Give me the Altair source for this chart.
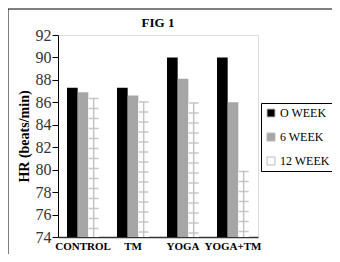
import altair as alt
import pandas as pd

groups = ["CONTROL", "TM", "YOGA", "YOGA+TM"]
weeks = ["O WEEK", "6 WEEK", "12 WEEK"]
week0 = [87.3, 87.3, 90.0, 90.0]
week6 = [86.9, 86.6, 88.1, 86.0]
week12 = [86.4, 86.1, 86.0, 79.9]
y_ticks = [74, 76, 78, 80, 82, 84, 86, 88, 90, 92]
title_text = "FIG 1"

rows = []
for i, g in enumerate(groups):
    for w, vals in zip(weeks, [week0, week6, week12]):
        rows.append({"group": g, "week": w, "value": vals[i]})
df = pd.DataFrame(rows)

SERIF = "Liberation Serif"

x_enc = alt.X("group:N", sort=groups,
              scale=alt.Scale(paddingInner=0.36, paddingOuter=0.18),
              axis=alt.Axis(title=None, labelAngle=0, labelFont=SERIF, labelFontSize=11,
                            labelFontWeight="bold", labelColor="#000", ticks=False,
                            domainColor="#333", domainWidth=1.5, labelPadding=3))
xo_enc = alt.XOffset("week:N", sort=weeks, scale=alt.Scale(domain=weeks))
y_enc = alt.Y("value:Q",
              scale=alt.Scale(domain=[74, 92], nice=False, zero=False),
              axis=alt.Axis(values=y_ticks, title="HR (beats/min)", titleFont=SERIF,
                            titleFontSize=14, titleFontWeight="bold", titleColor="#000",
                            titlePadding=4, labelFont=SERIF, labelFontSize=16,
                            labelColor="#333", tickColor="#000", tickSize=6,
                            domainColor="#000", grid=False, labelPadding=1))

base = alt.Chart(df)

bars = base.mark_bar(clip=True).encode(
    x=x_enc,
    xOffset=xo_enc,
    y=y_enc,
    y2=alt.datum(74),
    color=alt.Color("week:N", sort=weeks,
                    scale=alt.Scale(domain=weeks, range=["#000000", "#a6a6a6", "#ffffff"]),
                    legend=alt.Legend(title=None, orient="none", legendX=203, legendY=68,
                                      strokeColor="#000", padding=4, symbolType="square",
                                      symbolSize=64, symbolStrokeColor="#bbbbbb",
                                      symbolStrokeWidth=1, labelFont=SERIF, labelFontSize=12,
                                      labelColor="#000", rowPadding=12, labelOffset=3)),
)

rungs = base.transform_filter(alt.datum.week == "12 WEEK").mark_rule(
    strokeWidth=10, strokeDash=[1.5, 8.5], color="#c8c8c8"
).encode(x=x_enc, xOffset=xo_enc, y=y_enc, y2=alt.datum(74))

rail = base.transform_filter(alt.datum.week == "12 WEEK").mark_rule(
    strokeWidth=1.5, color="#c4c4c4", xOffset=-4
).encode(x=x_enc, xOffset=xo_enc, y=y_enc, y2=alt.datum(74))

frame = alt.Chart(pd.DataFrame({"a": [0]})).mark_rect(
    fill="transparent", fillOpacity=0, stroke="#000", strokeWidth=1, clip=False
).encode(x=alt.value(-50), x2=alt.value(300), y=alt.value(-26), y2=alt.value(260))

title = alt.Chart(pd.DataFrame({"t": [title_text]})).mark_text(
    font=SERIF, fontSize=13, fontWeight="bold", color="#000", align="center",
    baseline="alphabetic", clip=False
).encode(text="t:N", x=alt.value(100), y=alt.value(-8))

chart = alt.layer(frame, bars, rungs, rail, title).properties(
    width=200, height=202,
    autosize=alt.AutoSizeParams(type="none"),
    padding={"left": 50, "top": 27, "right": 74, "bottom": 17},
).configure_view(stroke="#000", strokeWidth=1).configure(
    background="white"
).configure_legend(labelFont=SERIF)

chart.save("out.html", embed_options={"renderer": "svg", "actions": False})
